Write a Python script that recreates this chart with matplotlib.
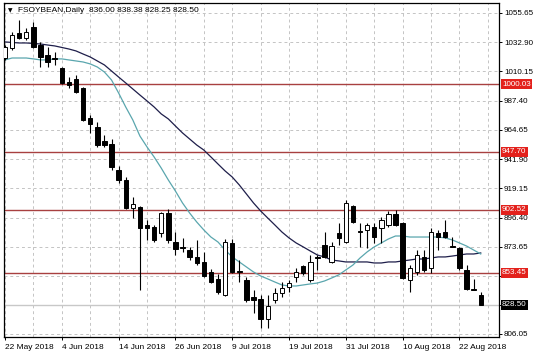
import matplotlib
matplotlib.use("Agg")
import matplotlib.pyplot as plt
import numpy as np

# ---------------- data ----------------
opens = [1020.7, 1028.4, 1040.1, 1036.2, 1044.8, 1030.7, 1023.0, 1020.6, 1012.9, 1001.9,
         1004.3, 997.3, 974.0, 966.9, 956.0, 953.7, 933.5, 925.7, 903.9, 904.7,
         890.7, 889.1, 884.4, 900.0, 877.4, 873.6, 871.2, 865.8, 861.9, 854.1,
         848.7, 836.2, 876.7, 854.9, 847.9, 834.6, 833.1, 817.5, 832.3, 837.7,
         842.4, 850.2, 858.8, 847.9, 865.8, 875.1, 861.9, 884.4, 877.4, 905.5,
         886.0, 886.8, 889.1, 888.3, 890.7, 899.2, 892.2, 847.9, 854.1, 865.8,
         857.2, 884.4, 885.2, 874.3, 872.8, 855.7, 840.8, 836.00]
highs = [1030.8, 1040.9, 1050.2, 1044.0, 1048.6, 1033.1, 1029.2, 1025.3, 1013.6, 1005.8,
         1007.4, 998.1, 976.3, 970.8, 960.7, 957.6, 936.6, 928.0, 912.5, 905.5,
         894.6, 890.7, 900.8, 903.1, 885.2, 880.6, 873.6, 879.0, 869.7, 856.4,
         852.5, 879.8, 879.8, 863.4, 850.3, 840.1, 836.2, 836.2, 841.6, 846.3,
         847.9, 857.2, 859.5, 867.3, 867.3, 885.2, 877.4, 892.2, 910.1, 906.2,
         892.2, 892.2, 892.2, 896.9, 901.6, 902.4, 893.0, 859.5, 871.2, 871.2,
         888.3, 886.8, 894.6, 881.3, 873.6, 859.5, 848.7, 838.38]
lows = [1019.1, 1026.9, 1035.4, 1034.6, 1028.4, 1013.6, 1013.6, 1015.2, 1000.4, 997.3,
        993.4, 971.6, 962.3, 951.4, 951.4, 933.5, 923.4, 903.1, 896.1, 840.1,
        879.0, 877.4, 881.3, 876.7, 867.3, 869.7, 863.4, 859.5, 850.3, 845.5,
        837.0, 835.4, 853.3, 846.3, 830.7, 822.2, 810.5, 810.5, 830.0, 834.6,
        838.5, 846.3, 851.8, 846.3, 855.7, 865.0, 861.1, 875.1, 876.7, 892.2,
        873.6, 872.8, 876.7, 876.7, 889.1, 889.9, 848.7, 838.5, 851.8, 854.1,
        853.3, 871.2, 880.6, 873.2, 855.7, 840.1, 839.7, 828.25]
closes = [1029.2, 1038.5, 1036.2, 1040.9, 1029.2, 1021.4, 1017.5, 1019.9, 1001.2, 999.6,
          994.2, 972.4, 969.3, 952.9, 952.9, 935.8, 925.7, 903.9, 907.0, 888.3,
          888.3, 879.0, 900.0, 879.0, 872.0, 872.8, 865.8, 861.1, 851.0, 846.3,
          838.5, 877.4, 854.1, 854.1, 832.3, 832.3, 817.5, 827.6, 837.7, 841.6,
          845.5, 854.1, 853.3, 861.9, 865.0, 865.8, 874.3, 880.6, 907.8, 893.0,
          885.2, 890.7, 881.3, 894.6, 899.2, 890.7, 849.4, 857.2, 867.3, 855.7,
          885.2, 881.3, 881.3, 873.6, 857.2, 840.8, 840.1, 828.50]

ma_slow = [1033.1, 1032.7, 1032.3, 1032.3, 1031.9, 1031.5, 1030.7, 1030.0, 1028.8, 1027.6,
           1026.1, 1023.7, 1021.4, 1018.3, 1015.2, 1010.5, 1005.8, 1001.2, 996.5, 991.8,
           987.2, 982.5, 977.1, 973.2, 967.7, 962.3, 957.6, 952.9, 949.0, 943.6,
           938.1, 932.7, 928.0, 921.8, 914.8, 907.8, 901.6, 896.1, 890.7, 885.2,
           880.6, 876.7, 873.6, 870.4, 867.3, 865.8, 863.4, 862.7, 861.9, 861.9,
           861.9, 861.9, 861.1, 861.1, 861.9, 861.9, 862.7, 863.4, 864.2, 864.2,
           865.0, 865.8, 865.8, 866.5, 867.3, 868.1, 868.1, 868.9]
ma_fast = [1019.1, 1020.6, 1020.6, 1020.6, 1019.9, 1019.1, 1019.1, 1019.9, 1019.9, 1019.1,
           1018.3, 1017.5, 1016.0, 1013.6, 1009.7, 1003.5, 993.4, 982.5, 972.4, 959.9,
           951.4, 943.6, 935.0, 925.7, 917.1, 907.8, 900.0, 893.0, 886.8, 881.3,
           877.4, 871.2, 865.8, 861.9, 858.0, 854.1, 851.0, 848.7, 846.3, 844.0,
           843.2, 843.2, 844.0, 844.8, 845.5, 847.1, 849.4, 851.8, 855.7, 859.5,
           865.0, 869.7, 873.6, 876.7, 879.8, 882.1, 882.1, 881.3, 881.3, 881.3,
           881.3, 881.3, 880.6, 879.0, 876.7, 874.3, 871.2, 868.1]

date_labels = ["22 May 2018", "4 Jun 2018", "14 Jun 2018", "26 Jun 2018", "9 Jul 2018",
               "19 Jul 2018", "31 Jul 2018", "10 Aug 2018", "22 Aug 2018"]
date_bar_index = [0, 8, 16, 24, 32, 40, 48, 56, 64]

price_ticks = [1055.65, 1032.90, 1010.15, 987.40, 964.65, 941.90, 919.15, 896.40,
               873.65, 850.90, 828.15, 806.05]
# labels hidden behind the level boxes in the reference
hidden_ticks = [850.90, 828.15]
levels = [1000.03, 947.70, 902.52, 853.45]
last_price = 828.50
title = "FSOYBEAN,Daily  836.00 838.38 828.25 828.50"

# ---------------- figure ----------------
FONT = ["Liberation Sans", "DejaVu Sans"]
FS = 5.8
plt.rcParams["font.family"] = FONT

fig = plt.figure(figsize=(5.36, 3.58), dpi=100)
ax = fig.add_axes([3.5 / 536, 21 / 358, 495.2 / 536, 334 / 358])

n = len(opens)
x = np.arange(n)
o = np.array(opens); c = np.array(closes); h = np.array(highs); l = np.array(lows)

ax.set_xlim(-0.21, 69.53)
ax.set_ylim(803.5, 1063.4)

# grid
grid_kw = dict(color="#c4c4c4", lw=0.7, ls=(0, (3, 3)), zorder=0)
for v in price_ticks:
    ax.axhline(v, **grid_kw)
for xi in range(0, 70, 4):
    ax.axvline(xi, **grid_kw)

# levels
for lv in levels:
    ax.axhline(lv, color="#a84040", lw=1.0, zorder=1.5)
ax.axhline(last_price, color="#c8c8c8", lw=1.0, zorder=1.4)

# moving averages
ax.plot(x, ma_slow, color="#1e1e4a", lw=0.9, zorder=2)
ax.plot(x, ma_fast, color="#5aa6ae", lw=0.9, zorder=2)

# candles
ax.vlines(x, l, h, color="black", lw=0.8, zorder=3)
up = c > o
body_bottom = np.minimum(o, c)
body_h = np.abs(c - o)
ax.bar(x, body_h, bottom=body_bottom, width=0.62,
       color=np.where(up, "white", "black"), edgecolor="black", lw=0.7, zorder=4)

# axes style
for s in ax.spines.values():
    s.set_color("black")
    s.set_linewidth(0.9)

ax.yaxis.tick_right()
ax.set_yticks(price_ticks)
ax.set_yticklabels(["" if v in hidden_ticks else f"{v:.2f}" for v in price_ticks])
ax.tick_params(axis="y", length=2.2, width=0.7, pad=1.6, labelsize=FS, colors="black")
ax.set_xticks(date_bar_index)
ax.set_xticklabels(date_labels, ha="left")
ax.tick_params(axis="x", length=2.2, width=0.7, pad=2.5, labelsize=FS + 0.2, colors="black")
for lab in ax.get_xticklabels():
    lab.set_horizontalalignment("left")

# level labels on the price axis
for lv in levels:
    ax.annotate(f"{lv:.2f}", xy=(1, lv), xycoords=("axes fraction", "data"),
                xytext=(2.4, 0), textcoords="offset points", ha="left", va="center",
                fontsize=FS, color="white", zorder=6, annotation_clip=False,
                bbox=dict(boxstyle="square,pad=0.18", fc="#e3211c", ec="none"))
ax.annotate(f"{last_price:.2f}", xy=(1, last_price), xycoords=("axes fraction", "data"),
            xytext=(2.4, 0), textcoords="offset points", ha="left", va="center",
            fontsize=FS, color="white", zorder=6, annotation_clip=False,
            bbox=dict(boxstyle="square,pad=0.18", fc="black", ec="none"))

# header
ax.text(0.009, 0.978, "\u25BC", transform=ax.transAxes,
        fontsize=4.2, family="DejaVu Sans", va="center", ha="left", color="black", zorder=7)
ax.text(0.030, 0.978, title, transform=ax.transAxes, fontsize=FS + 0.2,
        va="center", ha="left", color="black", zorder=7)

fig.savefig("out.png", dpi=100, facecolor="white")
